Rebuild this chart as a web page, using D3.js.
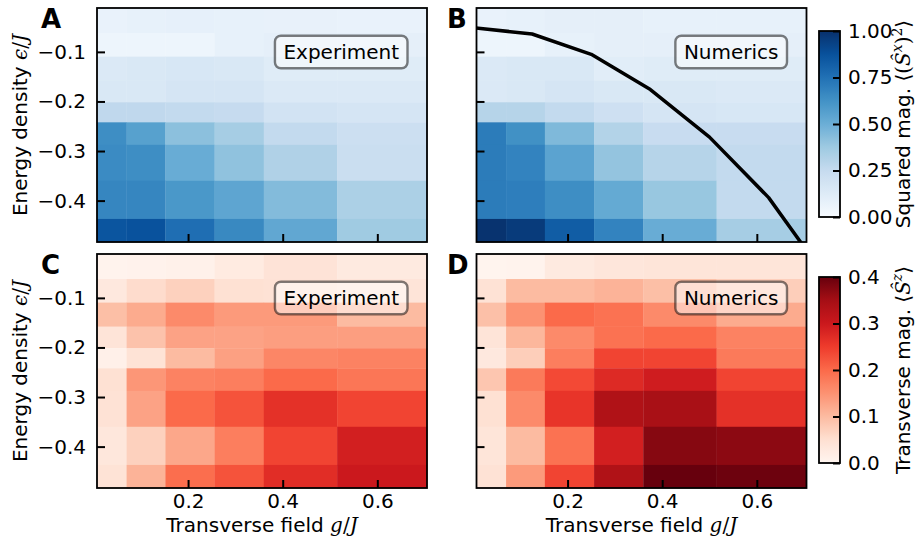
<!DOCTYPE html>
<html><head><meta charset="utf-8">
<script src="https://cdn.jsdelivr.net/npm/d3@7"></script>
<style>
body{margin:0;background:#fff}
text{font-family:"DejaVu Sans",sans-serif;fill:#000}
</style>
</head><body>
<svg id="c" width="923" height="544"></svg>
<script>
// ---- data ----
// cell edges (transverse field g/J, energy density eps/J)
const gEdges = [0.0075, 0.07, 0.152, 0.256, 0.36, 0.515, 0.705];
const epsEdges = [-0.0115, -0.062, -0.1095, -0.158, -0.2015, -0.242, -0.2875, -0.36, -0.437, -0.4835];
// rows top (eps ~ -0.04) to bottom (eps ~ -0.46), columns left to right in g
const sxExp = [
  [0.07, 0.08, 0.085, 0.08, 0.075, 0.07],
  [0.05, 0.05, 0.05, 0.08, 0.09, 0.09],
  [0.14, 0.15, 0.16, 0.15, 0.12, 0.12],
  [0.15, 0.15, 0.17, 0.17, 0.14, 0.14],
  [0.27, 0.27, 0.26, 0.25, 0.19, 0.17],
  [0.64, 0.56, 0.42, 0.35, 0.26, 0.22],
  [0.65, 0.64, 0.51, 0.41, 0.32, 0.23],
  [0.67, 0.67, 0.60, 0.54, 0.44, 0.33],
  [0.86, 0.87, 0.76, 0.66, 0.53, 0.37]
];
const sxNum = [
  [0.07, 0.08, 0.09, 0.09, 0.08, 0.08],
  [0.05, 0.05, 0.08, 0.09, 0.09, 0.09],
  [0.14, 0.15, 0.15, 0.11, 0.12, 0.12],
  [0.14, 0.15, 0.17, 0.15, 0.15, 0.14],
  [0.30, 0.30, 0.26, 0.21, 0.17, 0.16],
  [0.71, 0.63, 0.45, 0.31, 0.24, 0.24],
  [0.71, 0.68, 0.55, 0.40, 0.30, 0.26],
  [0.71, 0.70, 0.64, 0.52, 0.39, 0.26],
  [0.99, 0.96, 0.83, 0.68, 0.51, 0.35]
];
const szExp = [
  [0.005, 0.007, 0.010, 0.025, 0.042, 0.027],
  [0.030, 0.055, 0.070, 0.048, 0.045, 0.040],
  [0.095, 0.120, 0.160, 0.140, 0.140, 0.100],
  [0.040, 0.090, 0.130, 0.130, 0.135, 0.135],
  [0.012, 0.043, 0.100, 0.133, 0.165, 0.170],
  [0.048, 0.145, 0.170, 0.175, 0.200, 0.185],
  [0.045, 0.130, 0.200, 0.225, 0.265, 0.240],
  [0.033, 0.070, 0.125, 0.175, 0.240, 0.290],
  [0.043, 0.110, 0.195, 0.225, 0.270, 0.300]
];
const szNum = [
  [0.003, 0.005, 0.027, 0.035, 0.038, 0.038],
  [0.045, 0.100, 0.100, 0.110, 0.095, 0.075],
  [0.093, 0.150, 0.200, 0.190, 0.160, 0.120],
  [0.040, 0.105, 0.160, 0.190, 0.200, 0.170],
  [0.030, 0.075, 0.175, 0.240, 0.240, 0.180],
  [0.085, 0.180, 0.235, 0.275, 0.295, 0.240],
  [0.048, 0.160, 0.260, 0.335, 0.345, 0.265],
  [0.038, 0.100, 0.190, 0.290, 0.375, 0.370],
  [0.045, 0.140, 0.240, 0.335, 0.400, 0.395]
];
// critical line (numerics)
const critG = [0, 0.125, 0.25, 0.375, 0.5, 0.625, 0.75];
const critEps = [-0.051, -0.064, -0.105, -0.176, -0.272, -0.394, -0.56];
// ticks
const gTicks = [0.2, 0.4, 0.6];
const epsTicks = [-0.1, -0.2, -0.3, -0.4];
const blueTicks = [0, 0.25, 0.5, 0.75, 1.0];
const redTicks = [0, 0.1, 0.2, 0.3, 0.4];

// ---- colour maps (matplotlib Blues / Reds) ----
const bluesC = ["#f7fbff","#deebf7","#c6dbef","#9ecae1","#6baed6","#4292c6","#2171b5","#08519c","#08306b"];
const redsC  = ["#fff5f0","#fee0d2","#fcbba1","#fc9272","#fb6a4a","#ef3b2c","#cb181d","#a50f15","#67000d"];
const blueScale = d3.scaleLinear().domain(d3.range(9).map(i => i / 8)).range(bluesC).interpolate(d3.interpolateRgb).clamp(true);
const redScale = d3.scaleLinear().domain(d3.range(9).map(i => i * 0.05)).range(redsC).interpolate(d3.interpolateRgb).clamp(true);

const svg = d3.select("#c");
const defs = svg.append("defs");
const W = 330, H = 234;

const panels = [
  {key: "A", data: sxExp, cs: blueScale, x0: 97,    y0: 8,   label: "Experiment", xlab: false, ylab: true,  line: false},
  {key: "B", data: sxNum, cs: blueScale, x0: 476.5, y0: 8,   label: "Numerics",   xlab: false, ylab: false, line: true},
  {key: "C", data: szExp, cs: redScale,  x0: 97,    y0: 254, label: "Experiment", xlab: true,  ylab: true,  line: false},
  {key: "D", data: szNum, cs: redScale,  x0: 476.5, y0: 254, label: "Numerics",   xlab: true,  ylab: false, line: false}
];

panels.forEach((p, pi) => {
  const xs = d3.scaleLinear().domain([gEdges[0], gEdges[gEdges.length - 1]]).range([p.x0, p.x0 + W]);
  const ys = d3.scaleLinear().domain([epsEdges[0], epsEdges[epsEdges.length - 1]]).range([p.y0, p.y0 + H]);
  const g = svg.append("g");
  const cells = [];
  p.data.forEach((row, i) => row.forEach((v, j) => cells.push({i, j, v})));
  g.selectAll("rect.cell").data(cells).join("rect")
    .attr("class", "cell")
    .attr("x", d => xs(gEdges[d.j]))
    .attr("y", d => ys(epsEdges[d.i]))
    .attr("width", d => xs(gEdges[d.j + 1]) - xs(gEdges[d.j]) + 0.3)
    .attr("height", d => ys(epsEdges[d.i + 1]) - ys(epsEdges[d.i]) + 0.3)
    .attr("fill", d => p.cs(d.v));

  if (p.line) {
    const cid = "clip" + pi;
    defs.append("clipPath").attr("id", cid).append("rect")
      .attr("x", p.x0).attr("y", p.y0).attr("width", W).attr("height", H);
    const pts = critG.map((gv, k) => [gv, critEps[k]]);
    g.append("path").datum(pts)
      .attr("clip-path", `url(#${cid})`)
      .attr("d", d3.line().x(d => xs(d[0])).y(d => ys(d[1])))
      .attr("fill", "none").attr("stroke", "#000").attr("stroke-width", 3.5)
      .attr("stroke-linejoin", "round");
  }

  // axes with inward ticks
  const ax = g.append("g").attr("transform", `translate(0,${p.y0 + H})`)
    .call(d3.axisBottom(xs).tickValues(gTicks).tickSize(-8).tickPadding(6)
      .tickFormat(p.xlab ? d3.format(".1f") : ""));
  const ay = g.append("g").attr("transform", `translate(${p.x0},0)`)
    .call(d3.axisLeft(ys).tickValues(epsTicks).tickSize(-8).tickPadding(11)
      .tickFormat(p.ylab ? d3.format(".1f") : ""));
  [ax, ay].forEach(a => {
    a.select(".domain").remove();
    a.selectAll(".tick line").attr("stroke", "#000").attr("stroke-width", 2);
    a.selectAll(".tick text").style("font-family", "DejaVu Sans").style("font-size", "20px").attr("fill", "#000");
  });

  // frame
  g.append("rect").attr("x", p.x0).attr("y", p.y0).attr("width", W).attr("height", H)
    .attr("fill", "none").attr("stroke", "#000").attr("stroke-width", 1.8);

  // label box
  const lab = g.append("g");
  const t = lab.append("text").attr("font-size", 20).text(p.label);
  const tw = t.node().getComputedTextLength();
  const bx1 = p.x0 + W - 19.5, bx0 = bx1 - tw - 17, by0 = p.y0 + 27.7, bh = 32.6;
  lab.insert("rect", "text").attr("x", bx0).attr("y", by0).attr("width", bx1 - bx0).attr("height", bh)
    .attr("rx", 6).attr("ry", 6)
    .attr("fill", "#fff").attr("fill-opacity", 0.5)
    .attr("stroke", "#000").attr("stroke-opacity", 0.5).attr("stroke-width", 2.4);
  t.attr("x", bx0 + 8.5).attr("y", by0 + bh / 2 + 7);

  // panel letter
  svg.append("text").attr("x", p.x0 < 200 ? 41 : 447).attr("y", p.y0 + 20)
    .attr("font-size", 26).attr("font-weight", "bold").text(p.key);

  // axis titles
  if (p.xlab) {
    const xt = svg.append("text").attr("x", p.x0 + W / 2).attr("y", 532)
      .attr("text-anchor", "middle").attr("font-size", 20);
    xt.append("tspan").text("Transverse field ");
    xt.append("tspan").attr("font-family", "DejaVu Serif").attr("font-style", "italic").text("g");
    xt.append("tspan").attr("font-family", "DejaVu Serif").text("/");
    xt.append("tspan").attr("font-family", "DejaVu Serif").attr("font-style", "italic").text("J");
  }
  if (p.ylab) {
    const yt = svg.append("text").attr("transform", `translate(27,${p.y0 + H / 2}) rotate(-90)`)
      .attr("text-anchor", "middle").attr("font-size", 20);
    yt.append("tspan").text("Energy density ");
    yt.append("tspan").attr("font-family", "DejaVu Serif").attr("font-style", "italic").text("\u03f5");
    yt.append("tspan").attr("font-family", "DejaVu Serif").text("/");
    yt.append("tspan").attr("font-family", "DejaVu Serif").attr("font-style", "italic").text("J");
  }
});

// ---- colour bars ----
function colorbar(id, cs, domain, ticks, fmt, y0, y1, labelParts) {
  const cx0 = 819, cw = 21;
  const grad = defs.append("linearGradient").attr("id", id)
    .attr("x1", 0).attr("y1", 1).attr("x2", 0).attr("y2", 0);
  d3.range(0, 1.0001, 0.02).forEach(f => {
    grad.append("stop").attr("offset", f).attr("stop-color", cs(domain[0] + f * (domain[1] - domain[0])));
  });
  svg.append("rect").attr("x", cx0).attr("y", y0).attr("width", cw).attr("height", y1 - y0)
    .attr("fill", `url(#${id})`);
  const sc = d3.scaleLinear().domain(domain).range([y1, y0]);
  const a = svg.append("g").attr("transform", `translate(${cx0 + cw},0)`)
    .call(d3.axisRight(sc).tickValues(ticks).tickSize(-7).tickPadding(8).tickFormat(d3.format(fmt)));
  a.select(".domain").remove();
  a.selectAll(".tick line").attr("stroke", "#000").attr("stroke-width", 2);
  a.selectAll(".tick text").style("font-family", "DejaVu Sans").style("font-size", "20px").attr("fill", "#000");
  svg.append("rect").attr("x", cx0).attr("y", y0).attr("width", cw).attr("height", y1 - y0)
    .attr("fill", "none").attr("stroke", "#000").attr("stroke-width", 1.8);
  const lt = svg.append("text").attr("transform", `translate(910,${(y0 + y1) / 2}) rotate(-90)`)
    .attr("text-anchor", "middle").attr("font-size", 20);
  labelParts(lt);
}
colorbar("gb", blueScale, [0, 1], blueTicks, ".2f", 31, 217, lt => {
  lt.append("tspan").text("Squared mag. ");
  lt.append("tspan").attr("font-family", "DejaVu Serif").text("\u27e8(");
  lt.append("tspan").attr("font-family", "DejaVu Serif").attr("font-style", "italic").text("\u015c");
  lt.append("tspan").attr("font-family", "DejaVu Serif").attr("font-style", "italic").attr("font-size", 14).attr("dy", -8).text("x");
  lt.append("tspan").attr("font-family", "DejaVu Serif").attr("dy", 8).text(")");
  lt.append("tspan").attr("font-family", "DejaVu Serif").attr("font-size", 14).attr("dy", -8).text("2");
  lt.append("tspan").attr("font-family", "DejaVu Serif").attr("dy", 8).text("\u27e9");
});
colorbar("gr", redScale, [0, 0.4], redTicks, ".1f", 277, 463, lt => {
  lt.append("tspan").text("Transverse mag. ");
  lt.append("tspan").attr("font-family", "DejaVu Serif").text("\u27e8");
  lt.append("tspan").attr("font-family", "DejaVu Serif").attr("font-style", "italic").text("\u015c");
  lt.append("tspan").attr("font-family", "DejaVu Serif").attr("font-style", "italic").attr("font-size", 14).attr("dy", -8).text("z");
  lt.append("tspan").attr("font-family", "DejaVu Serif").attr("dy", 8).text("\u27e9");
});
</script>
</body></html>
